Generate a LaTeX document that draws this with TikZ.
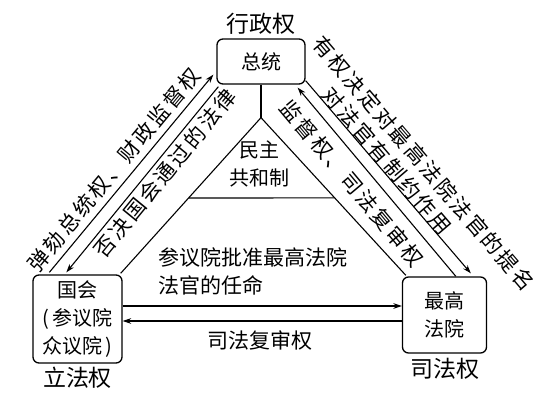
\documentclass[tikz,border=0pt]{standalone}
\usepackage{fontspec}
\setmainfont{Noto Sans CJK SC}
\newfontfamily\cjkwide[LetterSpace=12]{Noto Sans CJK SC}
\usetikzlibrary{calc, positioning, arrows.meta}

\begin{document}
\begin{tikzpicture}[x=1pt, y=-1pt, node distance=1pt]
    % Definindo os estilos
    \tikzstyle{branch_box} = [rectangle, draw, line width=1.3pt, rounded corners=6pt, align=center, font=\fontsize{20}{28}\selectfont]
    \tikzstyle{power_label} = [font=\fontsize{23}{26}\selectfont]
    \tikzstyle{note} = [font=\fontsize{21}{28}\selectfont]
    \tikzstyle{slope_note} = [sloped, font=\cjkwide\fontsize{21}{26}\selectfont]
    \tikzstyle{link_line} = [draw, line width=1.1pt]
    \tikzstyle{arrow_line} = [draw, line width=1.1pt, -{Stealth[length=3mm, width=2mm]}]

    \useasboundingbox (0,0) rectangle (550,404);

    % Os tres poderes
    \node [branch_box, minimum width=88pt, minimum height=45pt] (president) at (261,61.5) {总统};
    \node [branch_box, minimum width=89pt, minimum height=88pt] (congress) at (77.5,319) {国会\\(\,参议院\\众议院\,)};
    \node [branch_box, minimum width=84pt, minimum height=76pt] (court) at (444.5,315) {最高\\法院};

    \node [power_label, above=0pt of president] (executive) {行政权};
    \node [power_label, below=0pt of congress] (legislative) {立法权};
    \node [power_label, below=1pt of court] (judicial) {司法权};

    % Triangulo central
    \coordinate (apex) at ($(president.south)+(0,33)$);
    \coordinate (left_foot) at ($(congress.north east)+(-2,-1)$);
    \coordinate (right_foot) at ($(court.north west)+(4,-1)$);
    \coordinate (base_left) at ($(apex)!0.516!(left_foot)$);
    \coordinate (base_right) at ($(apex)!0.509!(right_foot)$);
    \path [link_line] (president.south) -- (apex);
    \path [link_line] (left_foot) -- (apex) -- (right_foot);
    \path [link_line] (base_left) -- (base_right);
    \node [note, font=\fontsize{20}{28}\selectfont, align=center] (republic) at (259,164) {民主\\共和制};

    % Setas entre legislativo e executivo
    \path [arrow_line] ($(congress.north west)+(17,-2)$) -- ($(president.south west)+(-3,-10)$)
        node [slope_note, pos=0.47, above=2pt] {弹劾总统权、财政监督权};
    \path [arrow_line] ($(president.south west)+(2,2)$) -- ($(congress.north west)+(34,-2)$)
        node [slope_note, pos=0.42, below] {否决国会通过的法律};

    % Setas entre executivo e judiciario
    \path [arrow_line] ($(president.south east)+(0,-4)$) -- ($(court.north west)+(69,-3)$)
        node [slope_note, pos=0.55, above=22pt] {有权决定对最高法院法官的提名}
        node [slope_note, pos=0.45, above=-4pt] {对法官有制约作用};
    \path [arrow_line] ($(court.north west)+(54,0)$) -- ($(president.south east)+(-8,3)$)
        node [slope_note, pos=0.56, below=6pt] {监督权、司法复审权};

    % Setas entre legislativo e judiciario
    \path [arrow_line] ($(congress.east)+(0,-13)$) coordinate (upper_start) -- (upper_start -| court.west);
    \coordinate (lower_end) at ($(congress.east)+(0,2)$);
    \path [arrow_line] (lower_end -| court.west) -- (lower_end);
    \node [note, align=left, anchor=west] (approval) at (155,271) {参议院批准最高法院\\法官的任命};
    \node [note] (review) at (260,340) {司法复审权};
\end{tikzpicture}
\end{document}
